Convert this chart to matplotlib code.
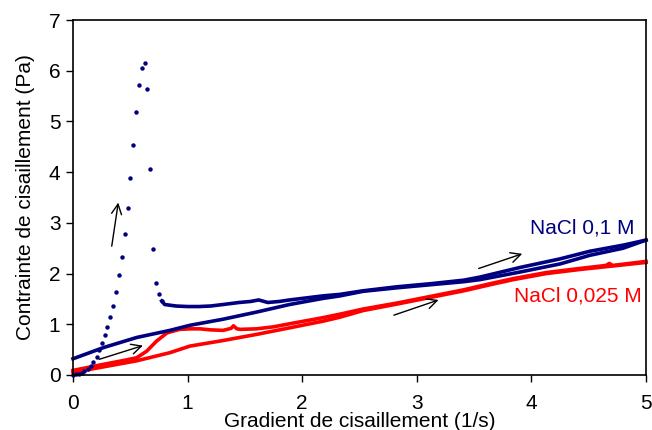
import matplotlib
matplotlib.use('Agg')
import matplotlib.pyplot as plt

plt.rcParams['font.family'] = ['Liberation Sans', 'DejaVu Sans']

# NaCl 0,1 M - montée (pic de contrainte, points isolés)
spike_x = [0.0, 0.025, 0.05, 0.075, 0.10, 0.127, 0.154, 0.177, 0.207, 0.23, 0.25, 0.277,
           0.30, 0.326, 0.349, 0.375, 0.40, 0.425, 0.45, 0.477, 0.50, 0.52, 0.55, 0.576,
           0.60, 0.628, 0.65, 0.675, 0.70, 0.724, 0.753, 0.774]
spike_y = [0.0, 0.01, 0.02, 0.04, 0.07, 0.11, 0.17, 0.26, 0.36, 0.50, 0.63, 0.78,
           0.95, 1.14, 1.37, 1.64, 1.97, 2.33, 2.79, 3.29, 3.89, 4.54, 5.19, 5.71,
           6.06, 6.15, 5.63, 4.07, 2.48, 1.82, 1.59, 1.46]

# NaCl 0,1 M - suite de la montée
blue_up_x = [0.774, 0.80, 0.9, 1.0, 1.1, 1.2, 1.31, 1.45, 1.55, 1.62, 1.70, 1.8, 1.89, 2.0,
             2.18, 2.33, 2.53, 2.83, 3.12, 3.41, 3.55, 3.9, 4.25, 4.51, 4.80, 5.0]
blue_up_y = [1.46, 1.39, 1.36, 1.35, 1.35, 1.36, 1.39, 1.43, 1.45, 1.48, 1.43, 1.45, 1.48, 1.51,
             1.56, 1.59, 1.66, 1.74, 1.80, 1.87, 1.93, 2.12, 2.29, 2.44, 2.56, 2.66]

# NaCl 0,1 M - descente
blue_down_x = [5.0, 4.80, 4.51, 4.25, 3.9, 3.55, 3.41, 3.12, 2.83, 2.53, 2.33, 2.18, 1.89,
               1.60, 1.31, 1.02, 0.846, 0.556, 0.265, 0.0]
blue_down_y = [2.66, 2.50, 2.36, 2.19, 2.03, 1.88, 1.84, 1.78, 1.72, 1.65, 1.56, 1.51, 1.39,
               1.24, 1.10, 0.98, 0.88, 0.74, 0.54, 0.32]

# NaCl 0,025 M - montée
red_up_x = [0.0, 0.265, 0.45, 0.556, 0.643, 0.73, 0.82, 0.93, 1.02, 1.11, 1.2, 1.31, 1.38, 1.40,
            1.43, 1.46, 1.60, 1.75, 1.89, 2.18, 2.33, 2.53, 2.83, 3.12, 3.41, 3.64, 3.84,
            4.13, 4.42, 4.65, 4.68, 4.71, 5.0]
red_up_y = [0.09, 0.21, 0.29, 0.34, 0.47, 0.67, 0.83, 0.90, 0.91, 0.91, 0.89, 0.88, 0.92, 0.97,
            0.91, 0.90, 0.91, 0.95, 1.01, 1.13, 1.20, 1.30, 1.42, 1.55, 1.68, 1.80, 1.90,
            2.02, 2.10, 2.16, 2.20, 2.16, 2.24]

# NaCl 0,025 M - descente
red_down_x = [5.0, 4.42, 4.13, 3.84, 3.64, 3.41, 3.12, 2.83, 2.53, 2.33, 2.18, 1.89, 1.60,
              1.31, 1.02, 0.846, 0.556, 0.265, 0.0]
red_down_y = [2.22, 2.08, 2.00, 1.88, 1.78, 1.66, 1.53, 1.40, 1.27, 1.14, 1.06, 0.93, 0.80,
              0.68, 0.57, 0.44, 0.28, 0.16, 0.05]

blue = '#000080'
red = '#ff0000'

fig = plt.figure(figsize=(6.52, 4.3), dpi=100)
ax = fig.add_axes([73 / 652, 55 / 430, 573 / 652, 355 / 430])

ax.plot(red_down_x, red_down_y, color=red, lw=2.6, clip_on=False)
ax.plot(red_up_x, red_up_y, color=red, lw=2.6, clip_on=False)
ax.plot(blue_down_x, blue_down_y, color=blue, lw=2.6, clip_on=False)
ax.plot(blue_up_x, blue_up_y, color=blue, lw=2.6, clip_on=False)
ax.plot(spike_x, spike_y, 'o', color=blue, ms=3.2, mew=0, clip_on=False)

arrows = [((0.338, 2.54), (0.395, 3.40)),
          ((0.23, 0.31), (0.61, 0.58)),
          ((2.80, 1.18), (3.19, 1.48)),
          ((3.54, 2.10), (3.92, 2.39))]
for start, end in arrows:
    ax.annotate('', xy=end, xytext=start,
                arrowprops=dict(arrowstyle='->', color='black', lw=1, mutation_scale=18,
                                shrinkA=0, shrinkB=0))

ax.text(4.90, 2.90, 'NaCl 0,1 M', color=blue, fontsize=15, ha='right', va='center')
ax.text(4.96, 1.55, 'NaCl 0,025 M', color=red, fontsize=15, ha='right', va='center')

ax.set_xlim(0, 5)
ax.set_ylim(0, 7)
ax.set_xticks([0, 1, 2, 3, 4, 5])
ax.set_yticks(range(8))
ax.tick_params(direction='out', length=5, width=1, labelsize=15, pad=4)
ax.tick_params(axis='x', pad=9)
for s in ax.spines.values():
    s.set_linewidth(1.2)

ax.set_xlabel('Gradient de cisaillement (1/s)', fontsize=15, labelpad=-1)
ax.set_ylabel('Contrainte de cisaillement (Pa)', fontsize=15, labelpad=10)

fig.savefig('out.png', dpi=100)
